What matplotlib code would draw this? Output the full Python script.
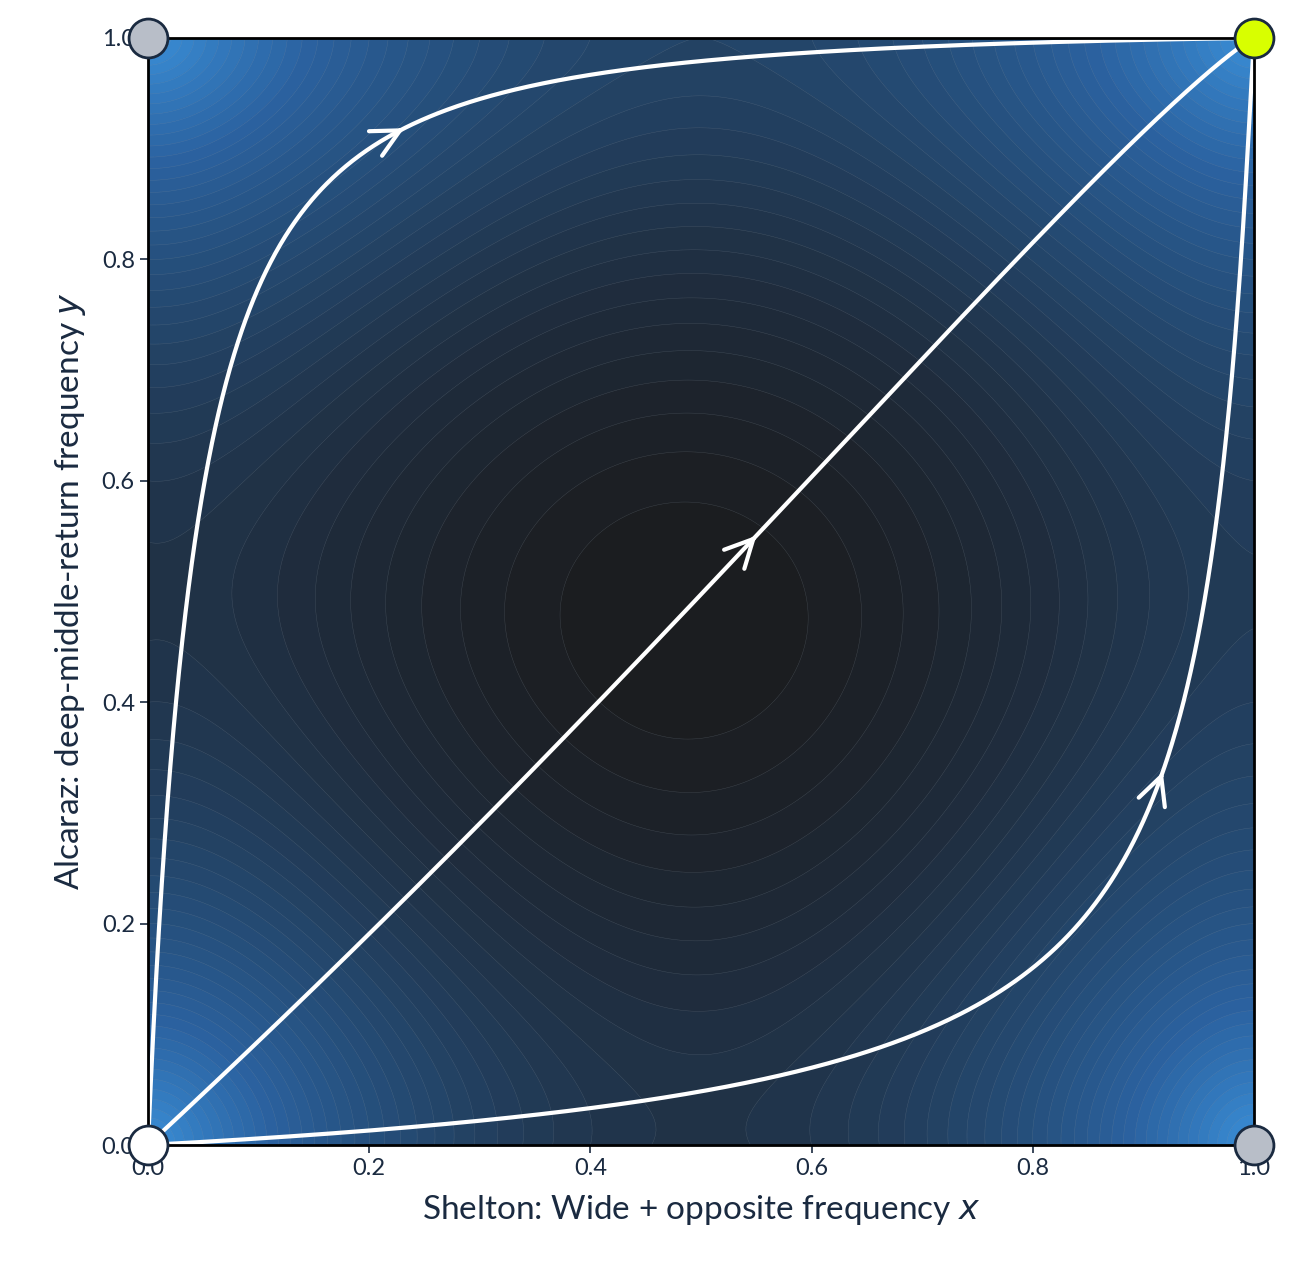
import numpy as np
import matplotlib
matplotlib.use("Agg")
import matplotlib.pyplot as plt
from matplotlib.colors import LinearSegmentedColormap

# game parameters (replicator dynamics)
ax_coef = [1.0, -0.2]   # dx = x(1-x)(a0 + a1*y)
ay_coef = [1.0, -0.1]   # dy = y(1-y)(b0 + b1*x)
seed_points = [(0.225, 0.915), (0.545, 0.545), (0.915, 0.33)]
corner_x = [0, 1, 0, 1]
corner_y = [0, 0, 1, 1]
corner_colors = ["white", "#b8bec8", "#b8bec8", "#d8ff00"]
ticks = [0.0, 0.2, 0.4, 0.6, 0.8, 1.0]

def field(x, y):
    dx = x*(1-x)*(ax_coef[0] + ax_coef[1]*y)
    dy = y*(1-y)*(ay_coef[0] + ay_coef[1]*x)
    return dx, dy

plt.rcParams['font.family'] = ['Lato', 'DejaVu Sans']
txt = "#1a2a40"
fig = plt.figure(figsize=(13.01, 12.83), dpi=100)
ax = fig.add_axes([148/1301, 1-1145/1283, 1106/1301, 1107/1283])

g = np.linspace(0, 1, 300)
X, Y = np.meshgrid(g, g)
U, V = field(X, Y)
S = np.sqrt(U**2 + V**2)
cmap = LinearSegmentedColormap.from_list(
    "c", [(0, "#3a8fd8"), (0.3, "#2b62a0"), (0.55, "#244a72"), (0.8, "#1f2e40"), (1, "#1b1c1e")])
ax.contourf(X, Y, S, levels=40, cmap=cmap)
ax.contour(X, Y, S, levels=40, colors="#8899aa", linewidths=0.3, alpha=0.35)

def integrate(p, sign, n=4000, h=0.01):
    pts = [p]
    x, y = p
    for _ in range(n):
        def f(a, b):
            u, v = field(a, b); return sign*u, sign*v
        k1 = f(x, y); k2 = f(x+h/2*k1[0], y+h/2*k1[1])
        k3 = f(x+h/2*k2[0], y+h/2*k2[1]); k4 = f(x+h*k3[0], y+h*k3[1])
        x += h/6*(k1[0]+2*k2[0]+2*k3[0]+k4[0]); y += h/6*(k1[1]+2*k2[1]+2*k3[1]+k4[1])
        pts.append((x, y))
    return np.array(pts)

for p in seed_points:
    b = integrate(p, -1)[::-1]; f = integrate(p, 1)
    tr = np.vstack([[0, 0], b, f, [1, 1]])
    ax.plot(tr[:, 0], tr[:, 1], color="white", lw=3, solid_capstyle="round")
    u, v = field(*p)
    n = np.hypot(u, v)
    ax.annotate("", xy=(p[0]+0.01*u/n, p[1]+0.01*v/n), xytext=p,
                arrowprops=dict(arrowstyle="->,head_length=2.0,head_width=1.0", color="white", lw=3))

for x, y, c in zip(corner_x, corner_y, corner_colors):
    ax.plot(x, y, 'o', ms=28, mfc=c, mec="#1a2a40", mew=2, clip_on=False, zorder=10)

ax.set_xlim(0, 1); ax.set_ylim(0, 1)
ax.set_xticks(ticks); ax.set_yticks(ticks)
ax.set_xticklabels([f"{t:.1f}" for t in ticks], fontsize=17, color=txt)
ax.set_yticklabels([f"{t:.1f}" for t in ticks], fontsize=17, color=txt)
ax.tick_params(length=6, width=1.2, colors=txt)
for s in ax.spines.values():
    s.set_linewidth(2); s.set_color("black")
ax.set_xlabel("Shelton: Wide + opposite frequency $x$", fontsize=24, color=txt, labelpad=10)
ax.set_ylabel("Alcaraz: deep-middle-return frequency $y$", fontsize=24, color=txt, labelpad=10)
fig.savefig("out.png", dpi=100)
